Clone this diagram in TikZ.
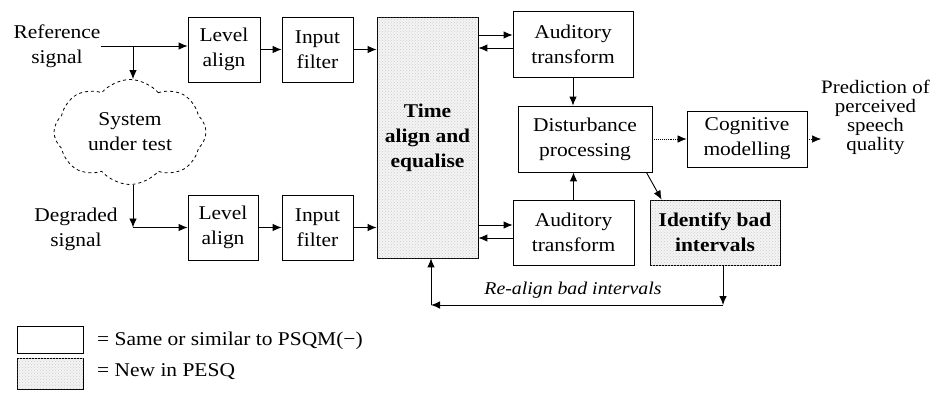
\documentclass[tikz,border=0pt]{standalone}
\usepackage{fontspec}
\setmainfont[FakeStretch=1.1]{Liberation Serif}
\usetikzlibrary{arrows.meta,shapes.symbols,patterns,calc}
\begin{document}
\begin{tikzpicture}[x=1pt,y=-1pt,
  txt/.style={align=center, inner sep=0pt, font=\fontsize{19.5}{25}\selectfont},
  box/.style={txt, draw, line width=0.8pt},
  newbox/.style={box, fill=gray!9, postaction={pattern=crosshatch dots, pattern color=gray!40}},
  arr/.style={-{Latex[length=9pt,width=7.5pt]}, line width=0.9pt},
  dotarr/.style={arr, densely dotted, line width=0.6pt},
  predtxt/.style={align=center, inner sep=0pt, font=\fontsize{19}{19}\selectfont}
]
\useasboundingbox (0,0) rectangle (944,399);

% text labels
\node[txt] (ref) at (57,46) {Reference\\signal};
\node[txt] (deg) at (76,229) {Degraded\\signal};
\node[predtxt, anchor=west] (pred) at (821,117) {Prediction of\\perceived\\speech\\quality};

% boxes
\node[box, minimum width=72pt, minimum height=65pt] (la1) at (224,49.5) {Level\\align};
\node[box, minimum width=71pt, minimum height=65pt] (if1) at (317.5,49.5) {Input\\filter};
\node[box, minimum width=70pt, minimum height=65pt] (la2) at (223,227.5) {Level\\align};
\node[box, minimum width=71pt, minimum height=65pt] (if2) at (317.5,227.5) {Input\\filter};
\node[newbox, minimum width=101pt, minimum height=241pt, font=\bfseries\fontsize{19.5}{25}\selectfont] (ta) at (427.5,137.5) {Time\\align and\\equalise};
\node[box, minimum width=120pt, minimum height=66pt] (at1) at (573,44) {Auditory\\transform};
\node[box, minimum width=134pt, minimum height=66pt] (dp) at (585,139) {Disturbance\\processing};
\node[box, minimum width=120pt, minimum height=56pt] (cm) at (747,139) {Cognitive\\modelling};
\node[box, minimum width=121pt, minimum height=65pt] (at2) at (573.5,232.5) {Auditory\\transform};
\node[newbox, minimum width=130pt, minimum height=65pt, font=\bfseries\fontsize{19.5}{25}\selectfont] (ib) at (715,232.5) {Identify bad\\intervals};

% cloud
\node[txt, cloud, draw, dashed, line width=0.8pt, cloud puffs=8, cloud puff arc=100, aspect=1.45,
      minimum width=152pt, minimum height=105pt] (sut) at (130,132) {System\\under test};

% helper coordinates
\coordinate (j1) at (133,46);
\coordinate (j2) at (133,227.5);
\coordinate (r1) at (723,305);
\coordinate (r2) at (431,305);

% connectors, reference path
\draw[arr] (ref.east) -- (ref.east -| la1.west);
\draw[arr] (j1) -- (j1 |- sut.north);
\draw[arr] (j1 |- sut.south) -- (j2);
\draw[arr] (j2) -- (la2.west);
\draw[arr] (la1) -- (if1);
\draw[arr] (if1.east) -- (if1.east -| ta.west);
\draw[arr] (la2) -- (if2);
\draw[arr] (if2.east) -- (if2.east -| ta.west);

% time align <-> auditory
\draw[arr] (ta.east |- 0,35) -- (at1.west |- 0,35);
\draw[arr] (at1.west |- 0,48) -- (ta.east |- 0,48);
\draw[arr] (ta.east |- 0,225) -- (at2.west |- 0,225);
\draw[arr] (at2.west |- 0,238) -- (ta.east |- 0,238);

% auditory -> disturbance
\draw[arr] (at1.south) -- (at1.south |- dp.north);
\draw[arr] (at2.north) -- (at2.north |- dp.south);
\draw[arr] ([xshift=-6pt]dp.south east) -- ([xshift=12pt]ib.north west);

% cognitive
\draw[dotarr] (dp.east) -- (cm.west);
\draw[dotarr] (cm.east) -- (cm.east -| pred.west);

% re-align loop
\draw[arr] (ib.south -| r1) -- (r1);
\draw[arr] (r1) -- (r2);
\draw[arr] (r2) -- (r2 |- ta.south);
\node[txt, font=\itshape\fontsize{18}{22}\selectfont] (rl) at (573,290) {Re-align bad intervals};

% legend
\node[box, minimum width=66pt, minimum height=27pt] (lg1) at (50,340) {};
\node[newbox, minimum width=66pt, minimum height=31pt] (lg2) at (50,374) {};
\node[txt, anchor=west] (lt1) at (97,341) {= Same or similar to PSQM(−)};
\node[txt, anchor=west] (lt2) at (97,372) {= New in PESQ};
\end{tikzpicture}
\end{document}
